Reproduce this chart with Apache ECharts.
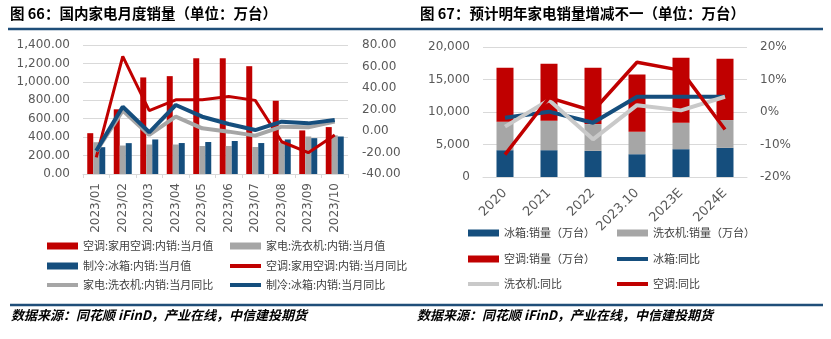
<!DOCTYPE html>
<html><head><meta charset="utf-8">
<script src="https://cdn.jsdelivr.net/npm/echarts@6/dist/echarts.min.js"></script>
<style>html,body{margin:0;padding:0;background:#fff;}#c{width:831px;height:339px;}</style>
</head><body><div id="c"></div>
<script>
// ---- Left chart data (图66) ----
const months = ['2023/01','2023/02','2023/03','2023/04','2023/05','2023/06','2023/07','2023/08','2023/09','2023/10'];
const acMonthly = [443, 702, 1048, 1062, 1256, 1256, 1170, 795, 473, 509];
const wmMonthly = [345, 309, 320, 320, 304, 304, 293, 345, 407, 420];
const frMonthly = [291, 335, 375, 336, 347, 358, 336, 375, 389, 407];
const acMonthlyYoy = [-24.5, 69.5, 18.9, 29, 29, 32, 28.5, -10, -20.2, -3.7];
const wmMonthlyYoy = [-19, 19, -3.7, 13.3, 2.5, -0.6, -4.3, 4, 3.4, 8.7];
const frMonthlyYoy = [-18.5, 22.6, -1.2, 24.2, 13.3, 6.5, 0.9, 8.7, 7.1, 10.2];
const leftNamesBar = ['空调:家用空调:内销:当月值','家电:洗衣机:内销:当月值','制冷:冰箱:内销:当月值'];
const leftNamesLine = ['空调:家用空调:内销:当月同比','家电:洗衣机:内销:当月同比','制冷:冰箱:内销:当月同比'];

// ---- Right chart data (图67) ----
const years = ['2020','2021','2022','2023.10','2023E','2024E'];
const frSales = [4124, 4124, 4021, 3505, 4278, 4485];
const wmSales = [4381, 4536, 4123, 3454, 4073, 4278];
const acSales = [8299, 8763, 8660, 8814, 10000, 9433];
const frYoy = [-1.8, 0.1, -3.3, 4.7, 4.7, 4.7];
const wmYoy = [-4.5, 3.7, -8.4, 2.1, 0.5, 4.7];
const acYoy = [-13.1, 4.4, 0.3, 15.3, 12.8, -5.4];
const rightNamesBar = ['冰箱:销量（万台）','洗衣机:销量（万台）','空调:销量（万台）'];
const rightNamesLine = ['冰箱:同比','洗衣机:同比','空调:同比'];

const titleLeft = '图 66：国内家电月度销量（单位：万台）';
const titleRight = '图 67：预计明年家电销量增减不一（单位：万台）';
const sourceText = '数据来源：同花顺 iFinD，产业在线，中信建投期货';

const RED = '#C00000', GRAY = '#A6A6A6', BLUE = '#154E7D', LGRAY = '#C9C9C9';
const LBL = {color:'#595959', fontFamily:'DejaVu Sans', fontSize:12};
const GRID_LINE = {lineStyle:{color:'#D9D9D9', width:1}};
const LINE_ICON = 'path://M0,0L31,0L31,4L0,4Z';

function fmtThousands(v, d){ return v.toFixed(d).replace(/\B(?=(\d{3})+(?!\d))/g, ','); }

const chart = echarts.init(document.getElementById('c'), null, {renderer:'canvas'});

function legendItem(name, icon, left, cy){
  return {
    data:[{name:name, icon:icon}],
    left:left, top:cy-7, padding:0, itemWidth:31, itemHeight:7, itemGap:0,
    selectedMode:false, symbolKeepAspect:true,
    textStyle:{color:'#404040', fontSize:11, fontFamily:'Noto Sans CJK SC', lineHeight:14, padding:[0,0,0,0]}
  };
}

const legends = [
  legendItem(leftNamesBar[0],'rect',47,246),
  legendItem(leftNamesBar[1],'rect',230,246),
  legendItem(leftNamesBar[2],'rect',47,266),
  legendItem(leftNamesLine[0],LINE_ICON,230,266),
  legendItem(leftNamesLine[1],LINE_ICON,47,285),
  legendItem(leftNamesLine[2],LINE_ICON,230,285),
  legendItem(rightNamesBar[0],'rect',468,233),
  legendItem(rightNamesBar[1],'rect',617,233),
  legendItem(rightNamesBar[2],'rect',468,259),
  legendItem(rightNamesLine[0],LINE_ICON,617,259),
  legendItem(rightNamesLine[1],LINE_ICON,468,284),
  legendItem(rightNamesLine[2],LINE_ICON,617,284)
];

const option = {
  animation:false,
  backgroundColor:'#ffffff',
  legend: legends,
  grid:[
    {left:83, top:45, width:265, height:129},
    {left:483, top:47, width:264, height:130}
  ],
  xAxis:[
    {type:'category', gridIndex:0, data:months, boundaryGap:true,
     axisLine:{lineStyle:{color:'#D9D9D9'}}, axisTick:{show:true, length:4, lineStyle:{color:'#D9D9D9'}},
     axisLabel:Object.assign({rotate:90, margin:9, interval:0}, LBL)},
    {type:'category', gridIndex:1, data:years, boundaryGap:true,
     axisLine:{lineStyle:{color:'#D9D9D9'}}, axisTick:{show:false},
     axisLabel:Object.assign({}, LBL, {rotate:45, margin:14, interval:0, fontSize:13})}
  ],
  yAxis:[
    {type:'value', gridIndex:0, min:0, max:1400, interval:200, position:'left',
     axisLine:{show:false}, axisTick:{show:false}, splitLine:GRID_LINE,
     axisLabel:Object.assign({margin:13, formatter:v=>fmtThousands(v,2)}, LBL)},
    {type:'value', gridIndex:0, min:-40, max:80, interval:20, position:'right',
     axisLine:{show:false}, axisTick:{show:false}, splitLine:{show:false},
     axisLabel:Object.assign({margin:14, formatter:v=>v.toFixed(2)}, LBL)},
    {type:'value', gridIndex:1, min:0, max:20000, interval:5000, position:'left',
     axisLine:{show:false}, axisTick:{show:false}, splitLine:GRID_LINE,
     axisLabel:Object.assign({margin:13, formatter:v=>fmtThousands(v,0)}, LBL)},
    {type:'value', gridIndex:1, min:-20, max:20, interval:10, position:'right',
     axisLine:{show:false}, axisTick:{show:false}, splitLine:{show:false},
     axisLabel:Object.assign({margin:13, formatter:v=>v+'%'}, LBL)}
  ],
  series:[
    {name:leftNamesBar[0], type:'bar', xAxisIndex:0, yAxisIndex:0, data:acMonthly, barWidth:6, barGap:'0%', itemStyle:{color:RED}},
    {name:leftNamesBar[1], type:'bar', xAxisIndex:0, yAxisIndex:0, data:wmMonthly, barWidth:6, barGap:'0%', itemStyle:{color:GRAY}},
    {name:leftNamesBar[2], type:'bar', xAxisIndex:0, yAxisIndex:0, data:frMonthly, barWidth:6, barGap:'0%', itemStyle:{color:BLUE}},
    {name:leftNamesLine[0], type:'line', xAxisIndex:0, yAxisIndex:1, data:acMonthlyYoy, symbol:'none', lineStyle:{color:RED, width:3}, itemStyle:{color:RED}, z:3},
    {name:leftNamesLine[1], type:'line', xAxisIndex:0, yAxisIndex:1, data:wmMonthlyYoy, symbol:'none', lineStyle:{color:GRAY, width:4}, itemStyle:{color:GRAY}, z:4},
    {name:leftNamesLine[2], type:'line', xAxisIndex:0, yAxisIndex:1, data:frMonthlyYoy, symbol:'none', lineStyle:{color:BLUE, width:4}, itemStyle:{color:BLUE}, z:5},

    {name:rightNamesBar[0], type:'bar', xAxisIndex:1, yAxisIndex:2, stack:'s', data:frSales, barWidth:17, itemStyle:{color:BLUE}},
    {name:rightNamesBar[1], type:'bar', xAxisIndex:1, yAxisIndex:2, stack:'s', data:wmSales, barWidth:17, itemStyle:{color:GRAY}},
    {name:rightNamesBar[2], type:'bar', xAxisIndex:1, yAxisIndex:2, stack:'s', data:acSales, barWidth:17, itemStyle:{color:RED}},
    {name:rightNamesLine[0], type:'line', xAxisIndex:1, yAxisIndex:3, data:frYoy, symbol:'none', lineStyle:{color:BLUE, width:4}, itemStyle:{color:BLUE}, z:3},
    {name:rightNamesLine[1], type:'line', xAxisIndex:1, yAxisIndex:3, data:wmYoy, symbol:'none', lineStyle:{color:LGRAY, width:4}, itemStyle:{color:LGRAY}, z:4},
    {name:rightNamesLine[2], type:'line', xAxisIndex:1, yAxisIndex:3, data:acYoy, symbol:'none', lineStyle:{color:RED, width:3.5}, itemStyle:{color:RED}, z:5}
  ],
  graphic:[
    {type:'text', left:10, top:6, style:{text:titleLeft, fill:'#000', font:'bold 14.5px "Noto Sans CJK SC"'}},
    {type:'text', left:420, top:6, style:{text:titleRight, fill:'#000', font:'bold 14.5px "Noto Sans CJK SC"'}},
    {type:'line', shape:{x1:8, y1:29, x2:823, y2:29}, style:{stroke:'#1F4E79', lineWidth:2.5}},
    {type:'line', shape:{x1:10, y1:305, x2:823, y2:305}, style:{stroke:'#1F4E79', lineWidth:2.5}},
    {type:'text', left:11, top:309, style:{text:sourceText, fill:'#000', font:'italic bold 13px "Noto Sans CJK SC"'}},
    {type:'text', left:417, top:309, style:{text:sourceText, fill:'#000', font:'italic bold 13px "Noto Sans CJK SC"'}}
  ]
};
chart.setOption(option);
</script>
</body></html>
